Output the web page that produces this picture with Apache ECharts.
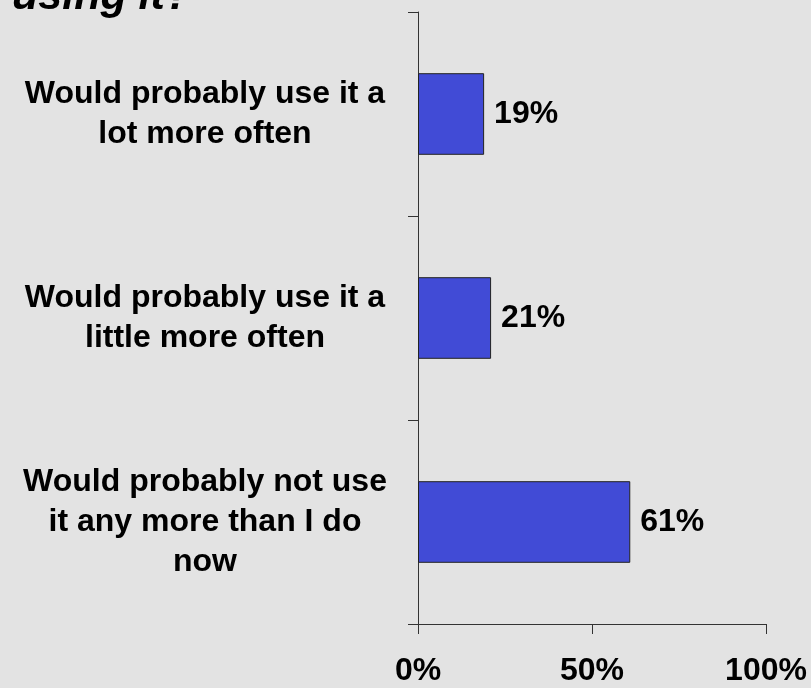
<!DOCTYPE html>
<html><head><meta charset="utf-8">
<script src="https://cdn.jsdelivr.net/npm/echarts@6/dist/echarts.min.js"></script>
<style>html,body{margin:0;padding:0;background:#e3e3e3}#c{width:811px;height:688px}</style>
</head><body><div id="c"></div>
<script>
const categories = ["Would probably use it a\nlot more often", "Would probably use it a\nlittle more often", "Would probably not use\nit any more than I do\nnow"];
const values = [19, 21, 61];
const xTicks = [0, 50, 100];
const titleText = "using it?";

const chart = echarts.init(document.getElementById('c'));
const font = '"Liberation Sans", Arial, sans-serif';
chart.setOption({
  backgroundColor: '#e3e3e3',
  animation: false,
  graphic: [{
    type: 'text', left: 12, top: -24,
    style: { text: titleText, font: 'italic bold 43px ' + font, fill: '#000' }
  }],
  grid: { left: 418, right: 45, top: 12, bottom: 64 },
  xAxis: {
    type: 'value', min: xTicks[0], max: xTicks[xTicks.length - 1], interval: 50,
    axisLine: { show: true, lineStyle: { color: '#333', width: 1 } },
    axisTick: { show: true, length: 10, lineStyle: { color: '#333' } },
    splitLine: { show: false },
    axisLabel: { formatter: '{value}%', margin: 31, color: '#000', fontSize: 32, fontWeight: 'bold', fontFamily: font }
  },
  yAxis: {
    type: 'category', inverse: true, data: categories,
    axisLine: { show: true, lineStyle: { color: '#333', width: 1 } },
    axisTick: { show: true, length: 10, lineStyle: { color: '#333' } },
    axisLabel: { align: 'center', margin: 213, color: '#000', fontSize: 32, fontWeight: 'bold', fontFamily: font, lineHeight: 40, padding: [6, 0, 0, 0] }
  },
  series: [{
    type: 'bar', data: values, barWidth: '40%',
    itemStyle: { color: '#414bd6', borderColor: '#222', borderWidth: 1 },
    label: { show: true, position: 'right', distance: 10, formatter: '{c}%', color: '#000', fontSize: 32, fontWeight: 'bold', fontFamily: font }
  }]
});
</script></body></html>
